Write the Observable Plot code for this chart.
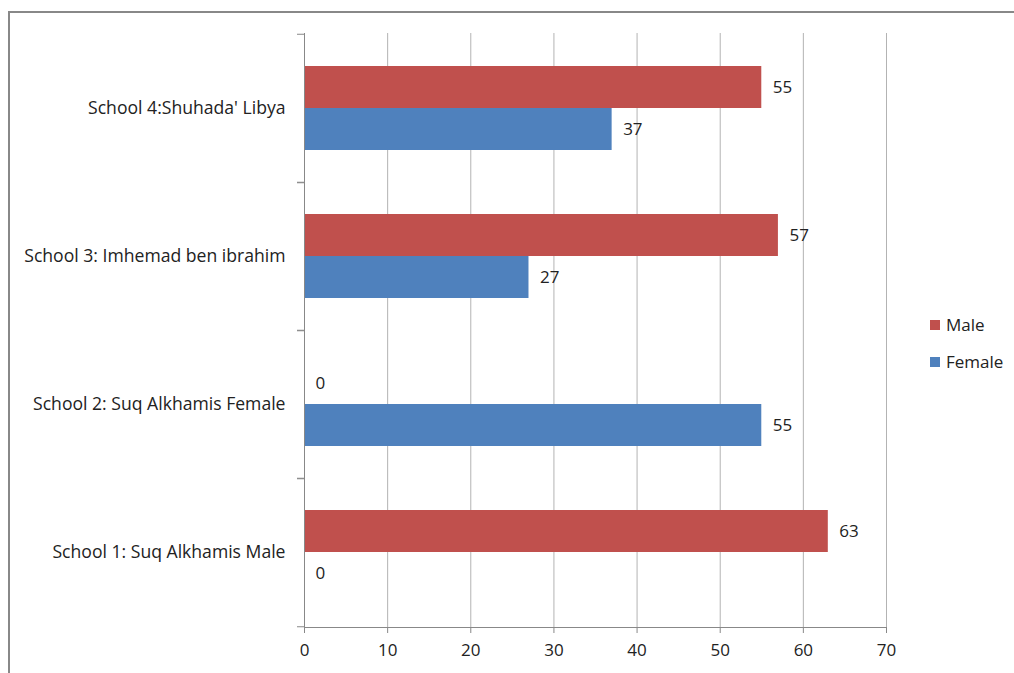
<!DOCTYPE html>
<html><head><meta charset="utf-8">
<script src="https://cdn.jsdelivr.net/npm/d3@7"></script>
<script src="https://cdn.jsdelivr.net/npm/@observablehq/plot@0.6"></script>
<style>
html,body{margin:0;padding:0;background:#fff;overflow:hidden;width:1014px;height:673px}
#wrap{position:relative;width:1014px;height:673px;font-family:"Open Sans","Noto Sans",sans-serif}
#border{position:absolute;left:8px;top:11px;width:1100px;height:800px;border:2px solid #888;box-sizing:border-box}
#chart{position:absolute;left:0;top:0}
#legend{position:absolute;left:930px;top:306px;font-size:17px;color:#222}
.li{display:flex;align-items:center;height:37px}
.sw{width:10px;height:10px;margin-right:6px}
</style></head><body>
<div id="wrap"><div id="border"></div><div id="chart"></div>
<div id="legend"></div></div>
<script>
const schools = ["School 4:Shuhada' Libya","School 3: Imhemad ben ibrahim","School 2: Suq Alkhamis Female","School 1: Suq Alkhamis Male"];
const male = [55, 57, 0, 63];
const female = [37, 27, 55, 0];
const series = ["Male","Female"];
const colors = {Male:"#C0504D", Female:"#4F81BD"};
const xTicks = [0,10,20,30,40,50,60,70];

const data = [];
schools.forEach((s,i)=>{
  data.push({school:s, gender:"Male", value:male[i]});
  data.push({school:s, gender:"Female", value:female[i]});
});
const M = data.filter(d=>d.gender==="Male");
const F = data.filter(d=>d.gender==="Female");

const W=1014,H=673,mt=33,mb=46,ml=304,mr=128;
const step=(H-mt-mb)/schools.length;
const bw=42;
const pi=1-bw/step;
const txt = {fontSize:17, fill:"#222", textAnchor:"start", dx:11};

const chart = Plot.plot({
  width:W, height:H, marginTop:mt, marginBottom:mb, marginLeft:ml, marginRight:mr,
  style:{fontFamily:"'Open Sans', 'Noto Sans', sans-serif", background:"transparent", color:"#222"},
  x:{domain:[0,70], ticks:xTicks, label:null},
  y:{domain:schools, type:"band", paddingInner:pi, paddingOuter:pi/2, label:null},
  marks:[
    Plot.gridX(xTicks, {stroke:"#b3b3b3", strokeOpacity:1}),
    Plot.barX(M, {y:"school", x:"value", fill:colors.Male, dy:-bw/2}),
    Plot.barX(F, {y:"school", x:"value", fill:colors.Female, dy:bw/2}),
    Plot.text(M, {y:"school", x:"value", text:d=>String(d.value), dy:-bw/2, ...txt}),
    Plot.text(F, {y:"school", x:"value", text:d=>String(d.value), dy:bw/2, ...txt}),
    Plot.ruleX([0], {stroke:"#888"}),
    Plot.axisY({tickSize:7, text:null, dy:-step/2, stroke:"#888", label:null}),
    Plot.axisY({tickSize:7, text:null, dy:step/2, stroke:"#888", label:null}),
    Plot.axisY({tickSize:0, tickPadding:19, fontSize:17.6, fill:"#222", label:null}),
    Plot.axisX(xTicks, {tickSize:6, tickPadding:10, fontSize:17, fill:"#222", stroke:"#888", label:null}),
    Plot.frame({anchor:"bottom", stroke:"#888"})
  ]
});
document.getElementById("chart").appendChild(chart);

const lg = document.getElementById("legend");
series.forEach(s=>{
  const d=document.createElement("div"); d.className="li";
  d.innerHTML=`<span class="sw" style="background:${colors[s]}"></span><span>${s}</span>`;
  lg.appendChild(d);
});
</script></body></html>
